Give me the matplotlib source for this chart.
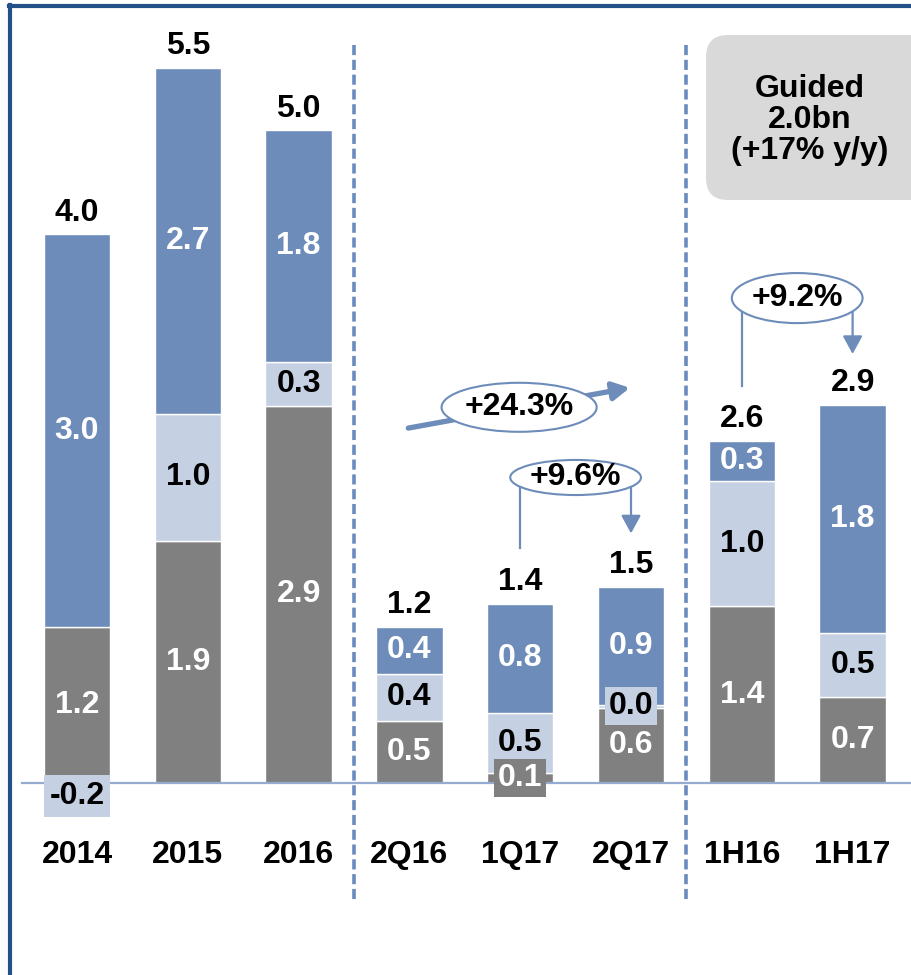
import matplotlib
matplotlib.use("Agg")
import matplotlib.pyplot as plt
from matplotlib.patches import Ellipse, FancyBboxPatch
from matplotlib.transforms import IdentityTransform
from matplotlib.lines import Line2D

plt.rcParams["font.family"] = ["Liberation Sans", "DejaVu Sans"]
plt.rcParams["font.weight"] = "bold"

categories = ["2014", "2015", "2016", "2Q16", "1Q17", "2Q17", "1H16", "1H17"]
gray_vals = [1.2, 1.86, 2.9, 0.48, 0.08, 0.58, 1.36, 0.66]
light_vals = [-0.2, 0.98, 0.34, 0.36, 0.46, 0.02, 0.96, 0.49]
blue_vals = [3.02, 2.66, 1.78, 0.36, 0.84, 0.91, 0.31, 1.76]
totals = [4.0, 5.5, 5.0, 1.2, 1.4, 1.5, 2.6, 2.9]

growth_quarter = "+24.3%"
growth_q2 = "+9.6%"
growth_half = "+9.2%"
guidance = "Guided\n2.0bn\n(+17% y/y)"

C_GRAY = "#808080"
C_LIGHT = "#c5d0e3"
C_BLUE = "#6d8cba"
C_LINE = "#6d8cba"
C_BORDER = "#24508a"
FS = 23

fig = plt.figure(figsize=(9.11, 9.75), dpi=100)
ax = fig.add_axes([0, 0, 1, 1])
ax.set_xlim(-0.695, 7.527)
ax.set_ylim(-1.477, 6.023)
ax.axis("off")

x = list(range(len(categories)))
w = 0.6
ax.bar(x, gray_vals, w, color=C_GRAY, edgecolor="white", linewidth=1, zorder=2)
light_bottom = [g if l >= 0 else 0 for g, l in zip(gray_vals, light_vals)]
ax.bar(x, light_vals, w, bottom=light_bottom, color=C_LIGHT, edgecolor="white", linewidth=1, zorder=2)
blue_bottom = [g + max(l, 0) for g, l in zip(gray_vals, light_vals)]
ax.bar(x, blue_vals, w, bottom=blue_bottom, color=C_BLUE, edgecolor="white", linewidth=1, zorder=2)

# zero line
ax.plot([-0.5, 7.6], [0, 0], color="#95abd0", lw=1.6, zorder=3)

for i in x:
    g, l, b = gray_vals[i], light_vals[i], blue_vals[i]
    # gray segment label (small ones get a box so they stay readable)
    kw = {}
    if g < 0.2:
        kw["bbox"] = dict(boxstyle="square,pad=0.12", fc=C_GRAY, ec="none")
    ax.text(i, g / 2, f"{g:.1f}", ha="center", va="center", color="white",
            fontsize=FS, fontweight="bold", zorder=5, **kw)
    # light segment label
    kw = {}
    if l < 0:
        kw["bbox"] = dict(boxstyle="square,pad=0.18", fc=C_LIGHT, ec="none")
    elif l < 0.2:
        kw["bbox"] = dict(boxstyle="square,pad=0.12", fc=C_LIGHT, ec="none")
    ly = light_bottom[i] + l / 2
    ax.text(i, ly, f"{l:.1f}", ha="center", va="center", color="black",
            fontsize=FS, fontweight="bold", zorder=5, **kw)
    # blue segment label
    ax.text(i, blue_bottom[i] + b / 2, f"{b:.1f}", ha="center", va="center",
            color="white", fontsize=FS, fontweight="bold", zorder=5)
    # total
    ax.annotate(f"{totals[i]:.1f}", (i, blue_bottom[i] + b), xytext=(0, 10),
                textcoords="offset points", ha="center", va="baseline",
                fontsize=FS, fontweight="bold", zorder=5)
    # category
    ax.text(i, -0.555, categories[i], ha="center", va="center",
            fontsize=FS, fontweight="bold")

# dashed separators
for sx in (2.5, 5.5):
    ax.plot([sx, sx], [(783 - 45) / 130, (783 - 900) / 130], color="#6a8bc0",
            lw=2.6, ls=(0, (2.8, 1.3)), zorder=1)

# +24.3% arrow
ax.annotate("", xy=(4.99, 3.04), xytext=(2.99, 2.73),
            arrowprops=dict(arrowstyle="-|>,head_length=0.5,head_width=0.27",
                            mutation_scale=20, lw=3.8, color=C_LINE,
                            shrinkA=0, shrinkB=0), zorder=3)
ax.add_patch(Ellipse((3.99, 2.89), 1.40, 0.377, fc="white", ec=C_LINE, lw=1.5, zorder=4))
ax.text(3.99, 2.89, growth_quarter, ha="center", va="center", fontsize=FS,
        fontweight="bold", zorder=5)


def bracket(x0, x1, yc, ybot_left, ytip, label, ew, eh):
    ax.plot([x0, x0], [yc, ybot_left], color=C_LINE, lw=1.6, zorder=3)
    ax.annotate("", xy=(x1, ytip), xytext=(x1, yc),
                arrowprops=dict(arrowstyle="-|>,head_length=0.55,head_width=0.3",
                                mutation_scale=20, lw=1.6, color=C_LINE,
                                shrinkA=0, shrinkB=0), zorder=3)
    ax.add_patch(Ellipse(((x0 + x1) / 2, yc), ew, eh, fc="white", ec=C_LINE,
                         lw=1.5, zorder=4))
    ax.text((x0 + x1) / 2, yc, label, ha="center", va="center", fontsize=FS,
            fontweight="bold", zorder=5)


bracket(4.0, 5.0, 2.35, 1.81, 1.92, growth_q2, 1.18, 0.27)
bracket(6.0, 7.0, 3.73, 3.05, 3.30, growth_half, 1.18, 0.385)

# guidance box (pixel coords)
H = 975
fig.patches.append(FancyBboxPatch((706, H - 200), 230, 165,
                                  boxstyle="round,pad=0,rounding_size=22",
                                  fc="#d9d9d9", ec="none",
                                  transform=IdentityTransform(), figure=fig))
fig.text(810 / 911, 1 - 120 / H, guidance, ha="center", va="center",
         fontsize=FS, fontweight="bold", linespacing=1.05)

# frame lines
fig.add_artist(Line2D([10 / 911, 10 / 911], [0, 1 - 5 / H], color=C_BORDER,
                      lw=3, transform=fig.transFigure))
fig.add_artist(Line2D([8.5 / 911, 1], [1 - 5.5 / H, 1 - 5.5 / H], color=C_BORDER,
                      lw=3, transform=fig.transFigure))

fig.savefig("out.png", dpi=100)
